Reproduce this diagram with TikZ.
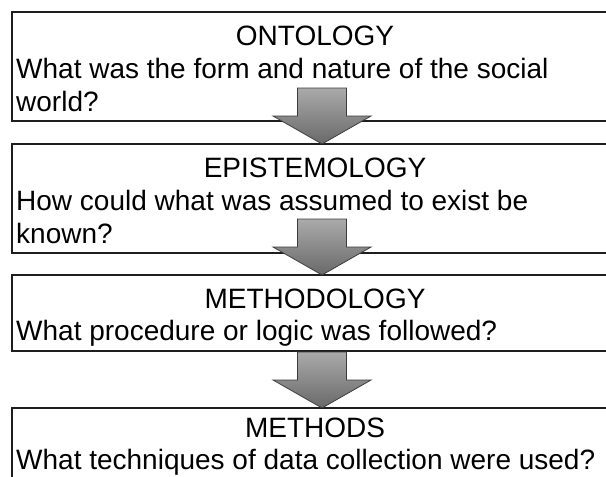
\documentclass[tikz,border=0pt]{standalone}
\usepackage{fontspec}
\setmainfont{Liberation Sans}
\usetikzlibrary{calc}

\definecolor{edge}{RGB}{30,30,30}
\definecolor{arrowtop}{RGB}{170,170,170}
\definecolor{arrowbot}{RGB}{105,105,105}
\definecolor{arrowline}{RGB}{60,60,60}

\tikzset{
  box/.style={draw=edge, line width=1.2pt, fill=white},
  heading/.style={anchor=base, inner sep=0pt, font=\fontsize{28}{33}\selectfont},
  question/.style={anchor=base west, inner sep=0pt, font=\fontsize{28}{33}\selectfont},
  blockarrow/.style={draw=arrowline, line width=0.8pt, line join=miter,
    top color=arrowtop, bottom color=arrowbot},
}

% block arrow pointing down, drawn upward from its tip
\newcommand{\downarrowfrom}[1]{%
  \path[blockarrow] (#1) -- ++(-49,-28) -- ++(24.5,0) -- ++(0,-28)
    -- ++(49,0) -- ++(0,28) -- ++(24.5,0) -- cycle;}

\begin{document}
\begin{tikzpicture}[x=1pt, y=-1pt]
  \useasboundingbox (0,0) rectangle (606,477);

  % the four stages
  \draw[box] (12,12)  rectangle (625,121);
  \coordinate (b1n) at (322,12);
  \coordinate (b1s) at (322,121);
  \draw[box] (12,144) rectangle (625,253);
  \coordinate (b2n) at (322,144);
  \coordinate (b2s) at (322,253);
  \draw[box] (12,275) rectangle (625,351);
  \coordinate (b3n) at (322,275);
  \coordinate (b3s) at (322,351);
  \draw[box] (12,408) rectangle (625,495);
  \coordinate (b4n) at (322,408);

  % stage titles and questions
  \node[heading]  (h1) at (315,45)  {ONTOLOGY};
  \node[question] (q1a) at (16,78)  {What was the form and nature of the social};
  \node[question] (q1b) at (16,111) {world?};

  \node[heading]  (h2) at (315,177) {EPISTEMOLOGY};
  \node[question] (q2a) at (16,210) {How could what was assumed to exist be};
  \node[question] (q2b) at (16,243) {known?};

  \node[heading]  (h3) at (315,308) {METHODOLOGY};
  \node[question] (q3a) at (16,340) {What procedure or logic was followed?};

  \node[heading]  (h4) at (315,437) {METHODS};
  \node[question] (q4a) at (16,469) {What techniques of data collection were used?};

  % arrows between stages
  \downarrowfrom{b2n}
  \downarrowfrom{b3n}
  \downarrowfrom{b4n}
\end{tikzpicture}
\end{document}
